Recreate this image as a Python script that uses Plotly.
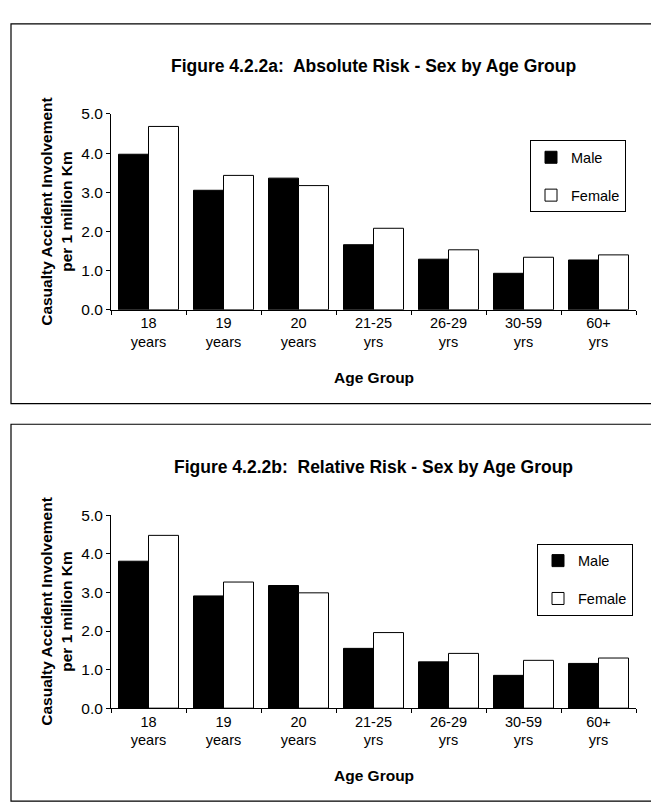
import plotly.graph_objects as go

W, H = 659, 809

categories = ["18<br>years", "19<br>years", "20<br>years", "21-25<br>yrs", "26-29<br>yrs", "30-59<br>yrs", "60+<br>yrs"]
abs_male = [3.97, 3.05, 3.36, 1.66, 1.29, 0.93, 1.27]
abs_female = [4.68, 3.43, 3.17, 2.08, 1.53, 1.34, 1.40]
rel_male = [3.81, 2.91, 3.18, 1.55, 1.20, 0.85, 1.16]
rel_female = [4.48, 3.27, 2.99, 1.96, 1.42, 1.24, 1.30]
y_ticks = [0, 1, 2, 3, 4, 5]
title_a = "Figure 4.2.2a:  Absolute Risk - Sex by Age Group"
title_b = "Figure 4.2.2b:  Relative Risk - Sex by Age Group"
y_title = "Casualty Accident Involvement<br>per 1 million Km"
x_title = "Age Group"

FONT = "Liberation Sans, Arial, sans-serif"


def px(x):
    return x / W


def py(y):
    return 1 - y / H


fig = go.Figure()

panels = [
    dict(male=abs_male, female=abs_female, xa="x", ya="y", leg="legend", top=99, bot=299, title=title_a),
    dict(male=rel_male, female=rel_female, xa="x2", ya="y2", leg="legend2", top=509, bot=706, title=title_b),
]

for i, p in enumerate(panels):
    fig.add_trace(go.Bar(x=categories, y=p["male"], name="Male", xaxis=p["xa"], yaxis=p["ya"],
                         marker=dict(color="black", line=dict(color="black", width=1)),
                         legend=p["leg"], legendgroup=f"m{i}"))
    fig.add_trace(go.Bar(x=categories, y=p["female"], name="Female", xaxis=p["xa"], yaxis=p["ya"],
                         marker=dict(color="white", line=dict(color="black", width=1)),
                         legend=p["leg"], legendgroup=f"f{i}"))

axis_common = dict(showline=True, linecolor="black", linewidth=1, ticks="outside", ticklen=4,
                   tickcolor="black", showgrid=False, zeroline=False)
xfont = dict(family=FONT, size=14.5, color="black")
yfont = dict(family=FONT, size=15.5, color="black")

x_dom = [px(103), px(628)]

legend_common = dict(xanchor="left", yanchor="top", bgcolor="white",
                     bordercolor="black", borderwidth=1, tracegroupgap=16,
                     font=dict(family=FONT, size=14.5, color="black"), itemwidth=30)

fig.update_layout(
    width=W, height=H,
    margin=dict(l=0, r=0, t=0, b=0),
    paper_bgcolor="white", plot_bgcolor="white",
    barmode="group", bargap=0.2, bargroupgap=0,
    font=dict(family=FONT, size=14, color="black"),
    xaxis=dict(domain=x_dom, anchor="y", type="category", tickson="boundaries", tickfont=xfont, **axis_common),
    yaxis=dict(domain=[py(panels[0]["bot"]), py(panels[0]["top"])], anchor="x", range=[0, 5],
               tickvals=y_ticks, tickformat=".1f", tickfont=yfont, **axis_common),
    xaxis2=dict(domain=x_dom, anchor="y2", type="category", tickson="boundaries", tickfont=xfont, **axis_common),
    yaxis2=dict(domain=[py(panels[1]["bot"]), py(panels[1]["top"])], anchor="x2", range=[0, 5],
                tickvals=y_ticks, tickformat=".1f", tickfont=yfont, **axis_common),
    legend=dict(x=px(522), y=py(126), **legend_common),
    legend2=dict(x=px(529), y=py(538), **legend_common),
    showlegend=True,
)

# frames around each panel
fig.add_shape(type="rect", xref="paper", yref="paper", x0=px(3), x1=px(653), y0=py(395), y1=py(7),
              line=dict(color="black", width=1.2), fillcolor="rgba(0,0,0,0)", layer="below")
fig.add_shape(type="rect", xref="paper", yref="paper", x0=px(3), x1=px(654), y0=py(801), y1=py(416),
              line=dict(color="black", width=1.2), fillcolor="rgba(0,0,0,0)", layer="below")

for p, dy in zip(panels, [0, 410]):
    cy = (p["top"] + p["bot"]) / 2
    fig.add_annotation(text=f"<b>{p['title']}</b>", xref="paper", yref="paper",
                       x=px(365.5), y=py(50 + dy), xanchor="center", yanchor="middle",
                       showarrow=False, font=dict(family=FONT, size=17.5, color="black"))
    fig.add_annotation(text=f"<b>{y_title}</b>", xref="paper", yref="paper",
                       x=px(49), y=py(cy), xanchor="center", yanchor="middle", textangle=-90,
                       showarrow=False, font=dict(family=FONT, size=15.5, color="black"))
    fig.add_annotation(text=f"<b>{x_title}</b>", xref="paper", yref="paper",
                       x=px(365.5), y=py(p["bot"] + 69), xanchor="center", yanchor="middle",
                       showarrow=False, font=dict(family=FONT, size=15.5, color="black"))

fig.write_html("out.html")
